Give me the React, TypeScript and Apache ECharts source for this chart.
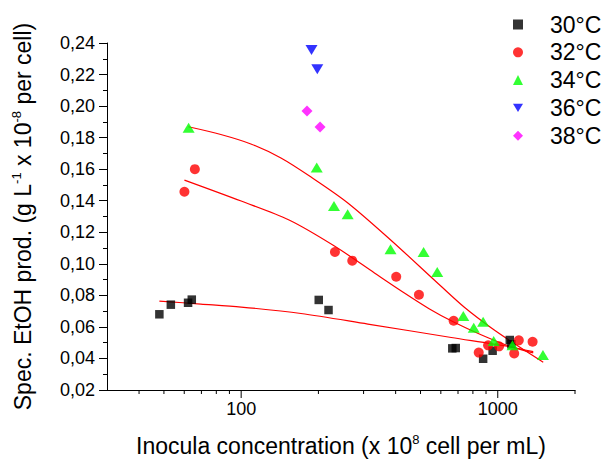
import React, { useEffect, useRef } from 'react';
import * as echarts from 'echarts';

// ---- data ----
const seriesNames = ['30°C', '32°C', '34°C', '36°C', '38°C'];

const x30 = [48, 53.2, 62.1, 64.2, 200.6, 219, 665, 686, 877, 955, 1114, 1130];
const y30 = [0.068, 0.0741, 0.0753, 0.0773, 0.0771, 0.0707, 0.0464, 0.0466, 0.0398, 0.0449, 0.0517, 0.049];

const x32 = [60.1, 66, 232, 271, 402, 493, 673, 843, 917, 1012, 1159, 1208, 1367];
const y32 = [0.1457, 0.16, 0.1075, 0.102, 0.0918, 0.0804, 0.0639, 0.0437, 0.0483, 0.0477, 0.0432, 0.0515, 0.0506];

const x34 = [62.4, 197, 230, 260, 382, 514, 581, 734, 806, 877, 964, 1141, 1500];
const y34 = [0.1863, 0.161, 0.1367, 0.1314, 0.1092, 0.1075, 0.0948, 0.0669, 0.0595, 0.0633, 0.0511, 0.0483, 0.0422];

const x36 = [188, 198];
const y36 = [0.2356, 0.2233];

const x38 = [180.5, 203];
const y38 = [0.1969, 0.1868];

// fitted curves
const fit30x = [48, 69.6, 100, 171, 311.7, 659, 1100, 1375];
const fit30y = [0.0764, 0.0745, 0.0726, 0.0685, 0.0618, 0.0533, 0.0476, 0.0443];

const fit32x = [60.1, 100, 153.7, 230.9, 330.7, 420.8, 542, 673, 865, 1131, 1375];
const fit32y = [0.1531, 0.1398, 0.1278, 0.1113, 0.0942, 0.0828, 0.0714, 0.0631, 0.0549, 0.0473, 0.0435];

const fit34x = [62.3, 83.3, 109.1, 142.9, 187.2, 260.4, 384.5, 602.8, 743, 944.9, 1183, 1504];
const fit34y = [0.1869, 0.182, 0.176, 0.1671, 0.155, 0.1386, 0.1148, 0.0856, 0.0723, 0.0593, 0.0485, 0.0376];

// axis ticks
const xMin = 30;
const xMax = 2000;
const yMin = 0.02;
const yMax = 0.24;
const yStep = 0.02;
const xMajorTicks = [100, 1000];
const xMinorTicks = [40, 50, 60, 70, 80, 90, 200, 300, 400, 500, 600, 700, 800, 900, 2000];

const FONT = '"Liberation Sans", Arial, sans-serif';
const DOWN_TRIANGLE = 'path://M0,0L12,0L6,10Z';

const zip = (xs: number[], ys: number[]) => xs.map((x, i) => [x, ys[i]]);

export default function App() {
  const ref = useRef<HTMLDivElement>(null);

  useEffect(() => {
    if (!ref.current) return;
    const chart = echarts.init(ref.current, undefined, { renderer: 'svg' });

    const tickSeries = (values: number[], len: number) => ({
      type: 'custom',
      silent: true,
      clip: false,
      z: 5,
      data: values.map((v) => [v, yMin]),
      renderItem: (_params: any, api: any) => {
        const p = api.coord([api.value(0), api.value(1)]);
        return {
          type: 'line',
          shape: { x1: p[0], y1: p[1], x2: p[0], y2: p[1] + len },
          style: { stroke: '#000', lineWidth: 1 },
        };
      },
    });

    const fitLine = (xs: number[], ys: number[]) => ({
      type: 'line',
      data: zip(xs, ys),
      smooth: 0.3,
      showSymbol: false,
      symbol: 'none',
      silent: true,
      z: 3,
      lineStyle: { color: '#ff0000', width: 1.2 },
    });

    const sup = { fontSize: 13, fontFamily: FONT, color: '#000', verticalAlign: 'top' as const, lineHeight: 26 };

    chart.setOption({
      animation: false,
      backgroundColor: '#ffffff',
      grid: {
        left: 107,
        right: 27,
        top: 43,
        bottom: 69,
        containLabel: false,
        outerBoundsMode: 'none',
      },
      legend: {
        orient: 'vertical',
        left: 508,
        top: 8,
        itemWidth: 10,
        itemHeight: 10,
        itemGap: 4.8,
        textStyle: { fontSize: 23, fontFamily: FONT, color: '#000', padding: [0, 0, 0, 22] },
        data: seriesNames,
      },
      xAxis: {
        type: 'log',
        logBase: 10,
        min: xMin,
        max: xMax,
        name: 'Inocula concentration (x 10{sup|8} cell per mL)',
        nameLocation: 'middle',
        nameGap: 43,
        nameTextStyle: {
          fontSize: 23,
          fontFamily: FONT,
          color: '#000',
          lineHeight: 26,
          rich: { sup },
        },
        axisLine: { show: true, lineStyle: { color: '#000', width: 1 } },
        axisTick: { show: false },
        minorTick: { show: false },
        splitLine: { show: false },
        axisLabel: {
          show: true,
          color: '#000',
          fontSize: 18,
          fontFamily: FONT,
          margin: 10,
          showMinLabel: false,
          showMaxLabel: false,
          formatter: (v: number) => {
            const l = Math.log10(v);
            return Math.abs(l - Math.round(l)) < 1e-6 ? String(Math.round(v)) : '';
          },
        },
      },
      yAxis: {
        type: 'value',
        min: yMin,
        max: yMax,
        interval: yStep,
        name: 'Spec. EtOH prod. (g L{sup|-1} x 10{sup|-8} per cell)',
        nameLocation: 'middle',
        nameRotate: 90,
        nameGap: 71,
        nameTextStyle: {
          fontSize: 23,
          fontFamily: FONT,
          color: '#000',
          lineHeight: 26,
          rich: { sup },
        },
        axisLine: { show: true, lineStyle: { color: '#000', width: 1 } },
        axisTick: { show: true, inside: false, length: 8, lineStyle: { color: '#000' } },
        minorTick: { show: true, splitNumber: 2, length: 4, lineStyle: { color: '#000' } },
        splitLine: { show: false },
        axisLabel: {
          color: '#000',
          fontSize: 18,
          fontFamily: FONT,
          margin: 12,
          formatter: (v: number) => v.toFixed(2).replace('.', ','),
        },
      },
      series: [
        {
          name: seriesNames[0],
          type: 'scatter',
          symbol: 'rect',
          symbolSize: 8.5,
          itemStyle: { color: '#000000' },
          data: zip(x30, y30),
          z: 4,
        },
        {
          name: seriesNames[1],
          type: 'scatter',
          symbol: 'circle',
          symbolSize: 10,
          itemStyle: { color: '#ff0000' },
          data: zip(x32, y32),
          z: 4,
        },
        {
          name: seriesNames[2],
          type: 'scatter',
          symbol: 'triangle',
          symbolSize: [12, 10],
          itemStyle: { color: '#00ff00' },
          data: zip(x34, y34),
          z: 4,
        },
        {
          name: seriesNames[3],
          type: 'scatter',
          symbol: DOWN_TRIANGLE,
          symbolSize: [12, 10],
          itemStyle: { color: '#0000ff' },
          data: zip(x36, y36),
          z: 4,
        },
        {
          name: seriesNames[4],
          type: 'scatter',
          symbol: 'diamond',
          symbolSize: [11, 11],
          itemStyle: { color: '#ff00ff' },
          data: zip(x38, y38),
          z: 4,
        },
        fitLine(fit30x, fit30y),
        fitLine(fit32x, fit32y),
        fitLine(fit34x, fit34y),
        tickSeries(xMajorTicks, 8),
        tickSeries(xMinorTicks, 4),
      ],
    });

    return () => chart.dispose();
  }, []);

  return (
    <div
      ref={ref}
      style={{ position: 'fixed', left: 0, top: 0, width: 602, height: 459, background: '#fff' }}
    />
  );
}
